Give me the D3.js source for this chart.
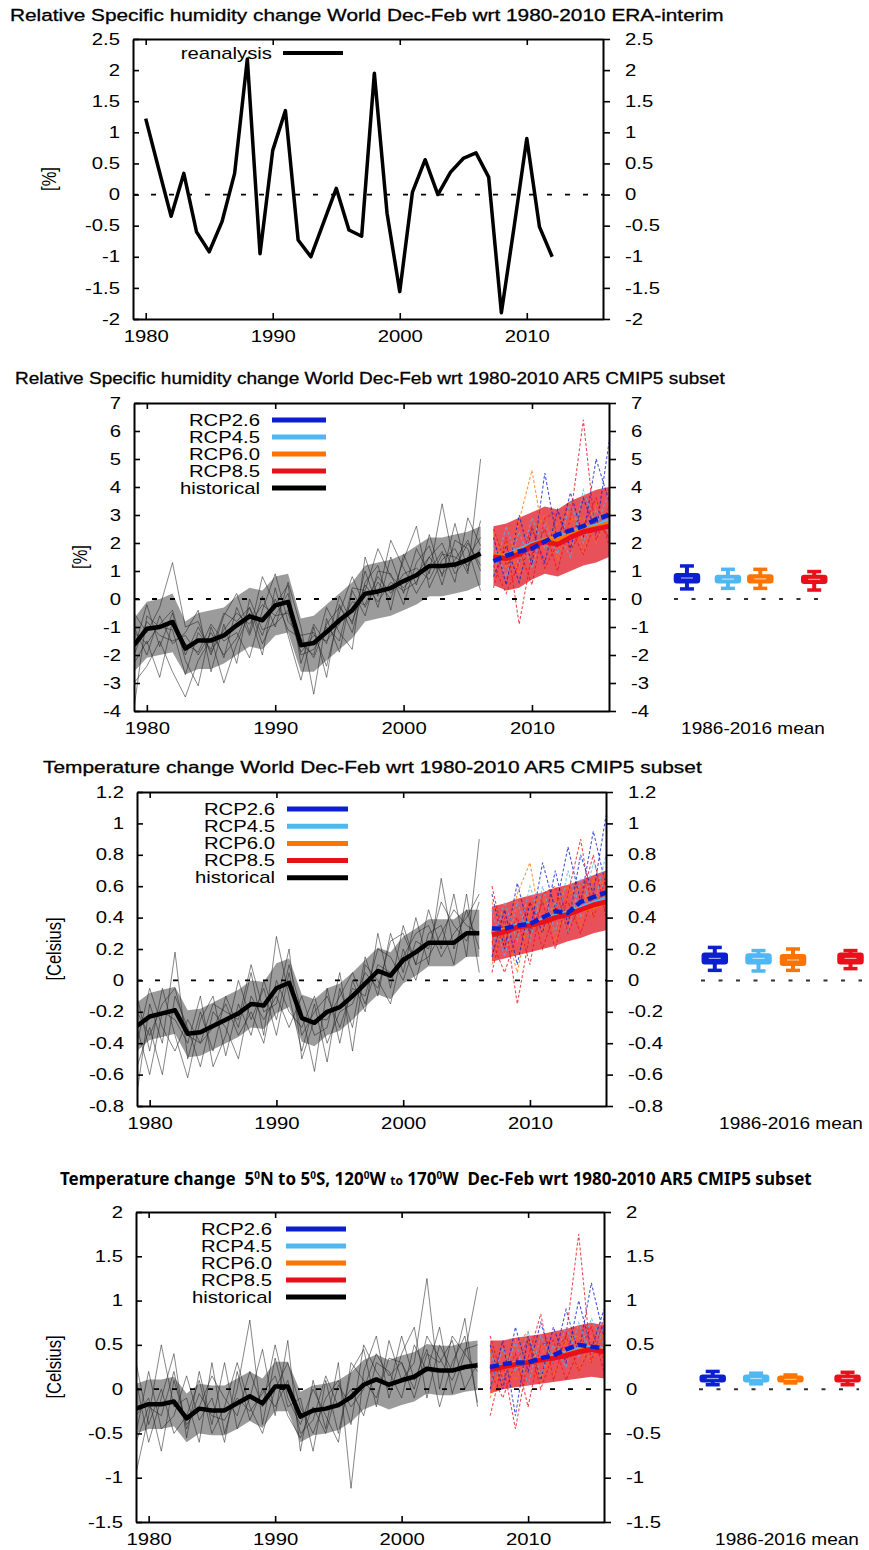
<!DOCTYPE html>
<html>
<head>
<meta charset="utf-8">
<script src="https://cdn.jsdelivr.net/npm/d3@7"></script>
<style>
  body { margin: 0; background: #fff; }
  svg { display: block; font-family: "Liberation Sans", Arial, sans-serif; }
  .axis path, .axis line { stroke: #000; }
  .axis path { stroke-width: 2; }
  .axis line { stroke-width: 1.6; }
  .axis text { fill: #000; font-size: 16px; font-family: "Liberation Sans", Arial, sans-serif; }
</style>
</head>
<body>
<svg id="chart" width="869" height="1550"></svg>
<script>
// ---- data ----
const reanYears = [1980,1981,1982,1983,1984,1985,1986,1987,1988,1989,1990,1991,1992,1993,1994,1995,1996,1997,1998,1999,2000,2001,2002,2003,2004,2005,2006,2007,2008,2009,2010,2011,2012];
const reanalysis = [1.22,0.43,-0.35,0.34,-0.6,-0.92,-0.44,0.34,2.18,-0.95,0.71,1.35,-0.73,-1.0,-0.45,0.1,-0.57,-0.67,1.95,-0.3,-1.56,0.04,0.56,0.0,0.36,0.58,0.67,0.28,-1.9,-0.52,0.9,-0.52,-1.0];

const histYears = [1979,1980,1981,1982,1983,1984,1985,1986,1987,1988,1989,1990,1991,1992,1993,1994,1995,1996,1997,1998,1999,2000,2001,2002,2003,2004,2005,2006];
const scenYears = [2007,2008,2009,2010,2011,2012,2013,2014,2015,2016];
const scenarios = ["RCP2.6","RCP4.5","RCP6.0","RCP8.5"];
const forcing = [2.6,4.5,6.0,8.5];
const scenColors = ["#0b1fd1","#4fb7f2","#ff7400","#e8101a"];
const xTicks = [1980,1990,2000,2010];

// specific humidity, world [%]
const humHistMean = [-1.65,-1.06,-1.0,-0.82,-1.77,-1.48,-1.48,-1.3,-0.94,-0.62,-0.76,-0.23,-0.1,-1.65,-1.57,-1.18,-0.76,-0.4,0.19,0.27,0.39,0.64,0.85,1.18,1.18,1.23,1.4,1.62];
const humHistLo = [-2.6,-2.1,-2.0,-1.9,-2.7,-2.5,-2.5,-2.3,-2.0,-1.7,-1.8,-1.3,-1.2,-2.6,-2.6,-2.2,-1.8,-1.4,-0.8,-0.7,-0.6,-0.4,-0.2,0.1,0.1,0.2,0.3,0.5];
const humHistHi = [-0.7,-0.1,0.0,0.2,-0.8,-0.5,-0.4,-0.3,0.1,0.4,0.3,0.8,0.9,-0.7,-0.6,-0.2,0.2,0.6,1.2,1.3,1.4,1.6,1.9,2.2,2.2,2.3,2.4,2.6];
const humHistRuns = [
  [-0.5,-1.2,-0.3,1.3,-1.0,-0.8,-2.0,-0.6,0.2,-1.2,0.8,-0.2,0.5,-2.3,-0.9,-1.6,0.1,-0.9,1.0,-0.3,1.5,0.2,1.8,0.9,3.4,1.1,2.0,1.2],
  [-3.0,-2.4,-1.5,-2.6,-3.5,-2.2,-1.4,-3.0,-1.6,-0.5,-2.0,0.4,-1.3,-2.9,-1.0,-2.8,-0.2,-1.2,0.6,1.2,-0.4,1.6,0.5,2.3,0.8,2.7,1.0,2.8],
  [-1.8,-0.2,-1.7,-0.5,-2.2,-3.1,-1.0,-2.1,-0.3,-1.3,0.1,-1.0,0.6,-1.0,-3.4,-0.7,-1.9,0.3,-0.6,1.0,0.9,-0.2,1.3,1.9,0.5,2.1,1.8,0.3],
  [-1.0,-2.0,-0.6,-1.6,-1.2,-0.4,-2.6,-0.9,-2.3,0.0,-1.1,-0.9,-0.4,-1.6,-2.0,-0.3,-1.2,-1.8,1.5,0.1,2.1,1.1,0.2,1.0,1.7,0.6,2.9,1.9],
  [-2.3,-1.5,-2.8,-0.8,-1.6,-1.9,-0.9,-1.5,-1.2,-2.1,-0.4,0.9,-0.8,-1.3,-1.2,-2.4,-0.5,0.8,-0.3,0.6,0.0,1.4,2.6,0.4,1.4,1.8,0.9,5.0],
  [-3.9,-0.6,-1.0,-1.1,-2.7,-1.2,-1.8,-0.5,-0.8,-0.3,-1.6,-0.6,0.2,-2.0,-1.8,-1.0,-1.5,0.4,0.3,1.8,0.8,0.4,0.9,1.5,2.0,0.9,1.5,2.2],
  [-1.2,-1.6,-0.9,-0.4,-2.0,-1.0,-1.9,-1.1,-0.5,-0.9,-0.2,-0.6,-0.5,-1.9,-1.3,-1.5,-0.9,-0.1,-0.2,0.8,0.2,0.9,1.1,0.7,1.6,1.5,1.2,1.8],
  [-2.0,-0.8,-1.3,-1.5,-1.3,-2.0,-1.2,-2.0,-1.4,-0.3,-1.3,0.0,-1.1,-1.4,-2.1,-0.9,-0.3,-0.8,0.5,-0.1,0.6,0.3,0.6,1.5,0.9,1.4,2.1,1.0]
];
const humScenMeans = [
  [1.35,1.55,1.7,1.8,2.05,2.3,2.45,2.6,2.85,3.0],
  [1.5,1.55,1.75,1.95,2.1,2.15,2.35,2.5,2.6,2.8],
  [1.55,1.5,1.7,1.9,2.1,2.1,2.3,2.45,2.55,2.7],
  [1.5,1.45,1.6,1.9,2.05,1.95,2.2,2.4,2.5,2.6]
];
const humScenLo = [0.5,0.3,0.4,0.7,0.9,0.8,1.0,1.2,1.3,1.5];
const humScenHi = [2.6,2.7,2.9,3.1,3.3,3.2,3.5,3.7,3.9,4.0];
const humScenRuns = [
  [[2.2,0.5,3.0,1.2,4.5,2.0,3.8,2.2,5.0,3.5],[0.8,1.9,0.6,2.5,1.3,3.2,1.8,3.6,2.4,5.6]],
  [[1.9,0.8,2.4,1.1,2.7,1.6,3.5,2.0,3.2,2.3],[0.9,2.6,1.2,2.9,1.8,2.4,1.5,3.9,2.6,3.8]],
  [[2.4,1.1,2.8,4.6,1.9,2.7,3.1,1.6,3.4,2.6],[1.0,2.0,0.9,2.2,3.0,1.4,2.8,2.9,2.0,3.1]],
  [[0.4,2.2,-0.9,1.6,2.5,1.0,2.9,6.4,2.1,3.3],[2.5,1.2,1.8,0.5,2.9,3.1,1.7,2.6,3.6,1.9],[1.2,0.2,1.3,2.6,1.1,2.0,2.5,1.6,2.8,2.2]]
];
// box stats per scenario: [min, q1, median, q3, max]
const humBox = [[0.36,0.6,0.75,0.88,1.18],[0.38,0.6,0.71,0.82,1.06],[0.38,0.6,0.72,0.84,1.06],[0.32,0.58,0.7,0.82,0.98]];

// temperature, world [C]
const tWorldHistMean = [-0.29,-0.23,-0.21,-0.19,-0.34,-0.33,-0.29,-0.25,-0.21,-0.15,-0.16,-0.05,-0.015,-0.24,-0.27,-0.2,-0.17,-0.1,-0.02,0.06,0.03,0.13,0.18,0.24,0.24,0.24,0.3,0.3];
const tWorldHistLo = [-0.45,-0.38,-0.36,-0.34,-0.49,-0.48,-0.44,-0.40,-0.36,-0.30,-0.31,-0.21,-0.17,-0.39,-0.42,-0.35,-0.32,-0.25,-0.17,-0.09,-0.12,-0.02,0.03,0.09,0.09,0.09,0.15,0.15];
const tWorldHistHi = [-0.14,-0.08,-0.06,-0.04,-0.19,-0.18,-0.14,-0.10,-0.06,0.0,-0.01,0.11,0.14,-0.09,-0.12,-0.05,-0.02,0.05,0.13,0.21,0.18,0.28,0.33,0.39,0.39,0.39,0.45,0.45];
const tWorldHistRuns = [
  [-0.72,-0.15,-0.4,0.18,-0.5,-0.2,-0.45,-0.1,-0.3,0.05,-0.35,0.28,-0.1,-0.45,-0.15,-0.52,-0.05,-0.3,0.15,-0.1,0.3,0.05,0.4,0.1,0.65,0.2,0.45,0.2],
  [-0.1,-0.45,-0.05,-0.35,-0.62,-0.25,-0.1,-0.48,-0.15,-0.35,0.0,-0.25,0.1,-0.2,-0.58,-0.05,-0.4,0.0,-0.2,0.3,-0.05,0.35,0.1,0.45,0.2,0.55,0.15,0.9],
  [-0.55,-0.3,-0.6,-0.1,-0.3,-0.55,-0.2,-0.3,-0.5,-0.1,-0.25,-0.1,-0.3,-0.1,-0.35,-0.3,0.05,-0.45,0.1,0.0,-0.15,0.2,0.0,0.3,0.35,0.1,0.55,0.05],
  [-0.3,-0.6,-0.2,-0.25,-0.4,-0.1,-0.55,-0.35,0.0,-0.25,-0.05,-0.35,0.05,-0.35,-0.2,-0.1,-0.3,-0.05,-0.1,0.2,0.15,0.0,0.25,0.2,0.5,0.35,0.25,0.5],
  [-0.4,-0.05,-0.3,-0.45,-0.25,-0.4,-0.3,-0.15,-0.35,-0.2,-0.4,0.0,-0.2,-0.3,-0.1,-0.4,-0.2,-0.15,0.05,-0.05,0.25,0.3,0.1,0.15,0.3,0.45,0.35,0.3],
  [-0.2,-0.35,-0.15,-0.05,-0.35,-0.4,-0.15,-0.2,-0.25,0.1,-0.2,-0.15,0.2,-0.5,-0.25,-0.25,-0.1,0.05,-0.15,0.1,0.05,0.15,0.3,0.35,0.15,0.3,0.4,0.55]
];
const tWorldScenMeans = [
  [0.33,0.33,0.35,0.36,0.40,0.44,0.43,0.50,0.53,0.56],
  [0.31,0.32,0.35,0.36,0.38,0.41,0.43,0.46,0.49,0.52],
  [0.30,0.32,0.34,0.35,0.37,0.40,0.42,0.45,0.47,0.50],
  [0.29,0.31,0.34,0.35,0.37,0.40,0.42,0.45,0.48,0.50]
];
const tWorldScenLo = [0.12,0.14,0.16,0.18,0.2,0.22,0.25,0.27,0.3,0.32];
const tWorldScenHi = [0.47,0.49,0.52,0.54,0.56,0.59,0.61,0.64,0.67,0.70];
const tWorldScenRuns = [
  [[0.55,0.2,0.62,0.3,0.75,0.45,0.85,0.5,0.95,0.6],[0.15,0.45,0.1,0.5,0.3,0.7,0.35,0.8,0.55,1.05]],
  [[0.45,0.15,0.5,0.25,0.6,0.3,0.7,0.4,0.75,0.55],[0.2,0.5,0.25,0.6,0.35,0.5,0.3,0.65,0.45,0.8]],
  [[0.5,0.25,0.55,0.75,0.3,0.5,0.6,0.35,0.65,0.45],[0.1,0.35,0.05,0.45,0.55,0.25,0.55,0.6,0.4,0.7]],
  [[0.05,0.4,-0.15,0.3,0.5,0.2,0.55,0.9,0.4,0.65],[0.6,0.25,0.4,0.1,0.55,0.6,0.3,0.5,0.8,0.4],[0.25,0.05,0.3,0.5,0.2,0.45,0.5,0.3,0.55,0.45]]
];
const tWorldBox = [[0.064,0.11,0.14,0.17,0.21],[0.06,0.11,0.14,0.165,0.19],[0.064,0.1,0.13,0.16,0.2],[0.075,0.11,0.14,0.17,0.19]];

// temperature, 5N-5S 120W-170W [C]
const tNinoHistMean = [-0.22,-0.17,-0.17,-0.14,-0.33,-0.22,-0.24,-0.24,-0.16,-0.08,-0.16,0.03,0.03,-0.31,-0.24,-0.22,-0.18,-0.09,0.05,0.11,0.05,0.1,0.14,0.23,0.21,0.21,0.25,0.27];
const tNinoHistLo = [-0.5,-0.45,-0.45,-0.42,-0.6,-0.5,-0.52,-0.52,-0.45,-0.36,-0.44,-0.25,-0.25,-0.6,-0.52,-0.5,-0.46,-0.37,-0.23,-0.17,-0.23,-0.18,-0.14,-0.05,-0.07,-0.07,-0.03,-0.01];
const tNinoHistHi = [0.06,0.11,0.11,0.14,-0.05,0.06,0.04,0.04,0.12,0.2,0.12,0.31,0.31,-0.03,0.04,0.06,0.1,0.19,0.33,0.39,0.33,0.38,0.42,0.51,0.49,0.49,0.53,0.55];
const tNinoHistRuns = [
  [-0.95,-0.3,0.5,-0.2,-0.1,-0.6,0.3,-0.5,0.0,0.78,-0.4,0.35,-0.2,-0.1,-0.7,0.1,-0.5,0.2,0.45,-0.2,0.55,0.1,0.3,1.25,0.0,0.6,0.4,0.2],
  [0.1,-0.6,-0.1,0.4,-0.55,0.2,-0.4,0.3,-0.45,-0.1,0.45,-0.3,0.55,-0.7,0.1,-0.45,0.3,-1.12,0.2,0.6,-0.1,0.4,0.7,-0.1,0.5,0.2,0.8,-0.2],
  [-0.5,0.2,-0.45,-0.3,0.15,-0.35,-0.1,-0.6,0.2,-0.35,0.0,-0.2,0.1,-0.5,-0.35,0.15,-0.2,0.0,-0.3,0.3,0.2,-0.1,0.5,0.2,0.7,-0.05,0.4,1.15],
  [-0.3,-0.1,-0.7,0.1,-0.4,-0.2,0.15,-0.1,-0.3,0.2,-0.2,0.5,-0.1,-0.4,0.0,-0.3,-0.6,0.3,0.1,-0.1,0.35,0.3,-0.1,0.4,0.3,0.55,0.0,0.3],
  [0.3,-0.4,0.0,-0.5,-0.3,0.1,-0.5,-0.2,0.3,-0.2,-0.5,0.0,0.3,-0.2,-0.5,-0.1,0.1,-0.4,0.5,0.2,0.0,0.6,0.1,0.45,-0.2,0.3,0.6,-0.15],
  [-0.6,-0.2,-0.3,0.2,-0.45,-0.05,-0.3,-0.35,-0.1,-0.25,-0.05,0.15,-0.3,-0.55,-0.2,-0.5,0.05,-0.2,0.0,0.4,0.15,0.3,0.0,0.6,0.35,0.1,0.45,0.5]
];
const tNinoScenMeans = [
  [0.25,0.28,0.3,0.3,0.35,0.38,0.45,0.5,0.48,0.46],
  [0.23,0.26,0.29,0.3,0.34,0.37,0.41,0.45,0.47,0.45],
  [0.22,0.25,0.28,0.3,0.33,0.36,0.39,0.43,0.45,0.43],
  [0.22,0.25,0.28,0.3,0.33,0.35,0.38,0.42,0.45,0.42]
];
const tNinoScenLo = [-0.05,0.0,0.02,0.04,0.06,0.08,0.1,0.12,0.14,0.12];
const tNinoScenHi = [0.55,0.55,0.58,0.6,0.62,0.65,0.68,0.72,0.75,0.72];
const tNinoScenRuns = [
  [[0.5,0.0,0.7,0.2,0.75,0.3,0.9,0.4,1.2,0.6],[0.0,0.55,-0.3,0.6,0.1,0.7,0.3,1.0,0.45,0.9]],
  [[0.4,0.1,0.55,0.05,0.6,0.3,0.7,0.35,0.8,0.5],[0.05,0.45,0.2,0.65,0.15,0.5,0.25,0.75,0.4,0.7]],
  [[0.45,0.15,0.5,0.65,0.1,0.45,0.55,0.2,0.6,0.35],[-0.1,0.3,0.1,0.4,0.5,0.15,0.55,0.6,0.3,0.65]],
  [[-0.3,0.3,-0.45,0.35,0.85,0.1,0.6,1.75,0.3,0.8],[0.6,0.1,0.4,-0.2,0.5,0.55,0.1,0.45,0.7,0.2],[0.2,-0.1,0.3,0.55,0.0,0.4,0.6,0.2,0.5,0.35]]
];
const tNinoBox = [[0.05,0.09,0.12,0.15,0.2],[0.06,0.09,0.12,0.15,0.18],[0.07,0.09,0.11,0.14,0.16],[0.05,0.09,0.12,0.15,0.19]];

// ---- drawing ----
const SX = 1.27; // the source figure is stretched sideways, so text is too
const svg = d3.select("#chart");
svg.append("rect").attr("width", 869).attr("height", 1550).attr("fill", "#fff");

function addText(parent, x, y, str, o = {}) {
  const sx = o.sx ?? SX, sy = o.sy ?? 1;
  return parent.append("text")
    .attr("transform", `translate(${x},${y})` + (o.rotate ? ` rotate(${o.rotate})` : "") + ` scale(${sx},${sy})`)
    .attr("text-anchor", o.anchor || "start")
    .attr("dy", "0.35em")
    .attr("font-size", o.size || 16)
    .attr("font-weight", o.weight || null)
    .attr("font-family", o.family || null)
    .text(str);
}

// squeeze/stretch a title so it spans x0..x1
function fitWidth(t, x0, x1, y) {
  const len = t.node().getComputedTextLength();
  t.attr("text-anchor", "start")
    .attr("transform", `translate(${x0},${y}) scale(${(x1 - x0) / len},1)`);
}

const fmt = (v) => String(+v.toFixed(2));

function drawPanel(p) {
  const g = svg.append("g");
  const x = d3.scaleLinear().domain([1979, 2016]).range([p.left, p.right]);
  const y = d3.scaleLinear().domain(p.yDomain).range([p.bottom, p.top]);

  svg.append("clipPath").attr("id", "clip" + p.id).append("rect")
    .attr("x", p.left).attr("y", p.top)
    .attr("width", p.right - p.left).attr("height", p.bottom - p.top);
  const plot = g.append("g").attr("clip-path", `url(#clip${p.id})`);

  const line = (years) => d3.line().x((v, i) => x(years[i])).y((v) => y(v));
  const band = (years, lo, hi) => d3.area()
    .x((v, i) => x(years[i])).y0((v, i) => y(lo[i])).y1((v, i) => y(hi[i]));

  if (p.hist) {
    // historical ensemble
    plot.append("path").datum(p.hist.lo)
      .attr("d", band(histYears, p.hist.lo, p.hist.hi))
      .attr("fill", "#5e5e5e").attr("opacity", 0.62);
    plot.selectAll(".hrun").data(p.hist.runs).join("path")
      .attr("class", "hrun")
      .attr("d", line(histYears))
      .attr("fill", "none").attr("stroke", "#222").attr("stroke-opacity", 0.55).attr("stroke-width", 1);

    // scenario ensemble
    plot.append("path").datum(p.scen.lo)
      .attr("d", band(scenYears, p.scen.lo, p.scen.hi))
      .attr("fill", "#e3202c").attr("opacity", 0.78);
    const runs = [];
    p.scen.runs.forEach((set, si) => set.forEach((r) => runs.push({ si, r })));
    // interleave so no colour is buried
    runs.sort((a, b) => (a.si % 2) - (b.si % 2));
    plot.selectAll(".srun").data(runs).join("path")
      .attr("class", "srun")
      .attr("d", (d) => line(scenYears)(d.r))
      .attr("fill", "none").attr("stroke", (d) => scenColors[d.si])
      .attr("stroke-opacity", 0.75).attr("stroke-width", 1.1).attr("stroke-dasharray", "3,2");
  }

  // zero line
  plot.append("line")
    .attr("x1", p.left).attr("x2", p.right).attr("y1", y(0)).attr("y2", y(0))
    .attr("stroke", "#000").attr("stroke-width", 1.8).attr("stroke-dasharray", "5,13");

  if (p.hist) {
    plot.append("path").datum(p.hist.mean)
      .attr("d", line(histYears))
      .attr("fill", "none").attr("stroke", "#000").attr("stroke-width", 4.5)
      .attr("stroke-linejoin", "round");
    [1, 2, 3, 0].forEach((si) => {
      plot.append("path").datum(p.scen.means[si])
        .attr("d", line(scenYears))
        .attr("fill", "none").attr("stroke", scenColors[si])
        .attr("stroke-width", si === 0 ? 4.5 : 5)
        .attr("stroke-dasharray", si === 0 ? "9,4" : null)
        .attr("stroke-linejoin", "round");
    });
  } else {
    plot.append("path").datum(p.rean)
      .attr("d", line(reanYears))
      .attr("fill", "none").attr("stroke", "#000").attr("stroke-width", 3.5)
      .attr("stroke-linejoin", "round");
  }

  // axes, gnuplot style: ticks on all four sides, right ticks point out
  const yTicks = d3.range(p.yDomain[0], p.yDomain[1] + 1e-9, p.yStep).map((v) => +v.toFixed(2));
  g.append("g").attr("class", "axis").attr("transform", `translate(${p.left},0)`)
    .call(d3.axisLeft(y).tickValues(yTicks).tickFormat(fmt).tickSizeInner(-6).tickSizeOuter(0).tickPadding(13))
    .call((a) => a.selectAll(".tick text").attr("x", -13 / SX).attr("transform", `scale(${SX},1)`));
  g.append("g").attr("class", "axis").attr("transform", `translate(${p.right},0)`)
    .call(d3.axisRight(y).tickValues(yTicks).tickFormat(fmt).tickSizeInner(7).tickSizeOuter(0).tickPadding(15))
    .call((a) => a.selectAll(".tick text").attr("x", 22 / SX).attr("transform", `scale(${SX},1)`));
  g.append("g").attr("class", "axis").attr("transform", `translate(0,${p.bottom})`)
    .call(d3.axisBottom(x).tickValues(xTicks).tickFormat(d3.format("d")).tickSizeInner(-6).tickSizeOuter(0))
    .call((a) => a.selectAll(".tick text").attr("y", 17).attr("dy", "0.35em").attr("transform", `scale(${SX},1)`));
  g.append("g").attr("class", "axis").attr("transform", `translate(0,${p.top})`)
    .call(d3.axisTop(x).tickValues(xTicks).tickFormat("").tickSizeInner(-6).tickSizeOuter(0));

  // title and y label
  if (p.title) {
    const t = addText(g, p.titleX[0], p.titleY, p.title, { size: 16.5, sx: 1 })
      .attr("stroke", "#000").attr("stroke-width", 0.3);
    fitWidth(t, p.titleX[0], p.titleX[1], p.titleY);
  }
  addText(g, p.ylabX, (p.top + p.bottom) / 2, p.ylab, { size: 16.5, anchor: "middle", rotate: -90, sx: 1, sy: SX });

  if (!p.hist) {
    addText(g, 272, 53, "reanalysis", { anchor: "end" });
    g.append("line").attr("x1", 283).attr("x2", 343).attr("y1", 53).attr("y2", 53)
      .attr("stroke", "#000").attr("stroke-width", 4);
    return;
  }

  // legend
  const L = p.legend;
  const keys = scenarios.concat(["historical"]);
  const colors = scenColors.concat(["#000"]);
  keys.forEach((k, i) => {
    const ly = L.y0 + i * L.dy;
    addText(g, L.right, ly, k, { anchor: "end" });
    g.append("line").attr("x1", L.x1).attr("x2", L.x2).attr("y1", ly).attr("y2", ly)
      .attr("stroke", colors[i]).attr("stroke-width", 5);
  });

  // 1986-2016 mean box plots
  const bx = d3.scaleLinear().domain([2, 9]).range(p.boxRange);
  g.append("line")
    .attr("x1", bx(2)).attr("x2", bx(9)).attr("y1", y(0)).attr("y2", y(0))
    .attr("stroke", "#333").attr("stroke-width", 2).attr("stroke-dasharray", "4,13.5");
  const boxes = g.selectAll(".box").data(p.box).join("g").attr("class", "box")
    .attr("transform", (d, i) => `translate(${bx(forcing[i])},0)`);
  boxes.append("line").attr("y1", (d) => y(d[0])).attr("y2", (d) => y(d[4]))
    .attr("stroke", (d, i) => scenColors[i]).attr("stroke-width", 4);
  boxes.selectAll(".cap").data((d, i) => [[d[0], i], [d[4], i]]).join("line").attr("class", "cap")
    .attr("x1", -7).attr("x2", 7).attr("y1", (c) => y(c[0])).attr("y2", (c) => y(c[0]))
    .attr("stroke", (c) => scenColors[c[1]]).attr("stroke-width", 3.5);
  boxes.append("rect")
    .attr("x", -12).attr("width", 24)
    .attr("y", (d) => y(d[3])).attr("height", (d) => y(d[1]) - y(d[3]))
    .attr("rx", 2)
    .attr("fill", (d, i) => scenColors[i]).attr("stroke", (d, i) => scenColors[i]).attr("stroke-width", 2.5);
  boxes.append("line").attr("x1", -6).attr("x2", 6).attr("y1", (d) => y(d[2])).attr("y2", (d) => y(d[2]))
    .attr("stroke", "#fff").attr("stroke-opacity", 0.6).attr("stroke-width", 1.2);

  addText(g, p.meanX, p.bottom + 17, "1986-2016 mean", { size: 17, anchor: "middle", sx: 1.12 });
}

const panels = [
  { id: 1, left: 133, right: 603, top: 39, bottom: 319, yDomain: [-2, 2.5], yStep: 0.5,
    title: "Relative Specific humidity change World Dec-Feb wrt 1980-2010 ERA-interim",
    titleX: [10, 724], titleY: 15, ylab: "[%]", ylabX: 49, rean: reanalysis },
  { id: 2, left: 134, right: 609, top: 403, bottom: 711, yDomain: [-4, 7], yStep: 1,
    title: "Relative Specific humidity change World Dec-Feb wrt 1980-2010 AR5 CMIP5 subset",
    titleX: [15, 725], titleY: 378, ylab: "[%]", ylabX: 80,
    hist: { mean: humHistMean, lo: humHistLo, hi: humHistHi, runs: humHistRuns },
    scen: { means: humScenMeans, lo: humScenLo, hi: humScenHi, runs: humScenRuns },
    box: humBox, boxRange: [674, 825], meanX: 753,
    legend: { right: 260, x1: 272, x2: 326, y0: 420, dy: 17 } },
  { id: 3, left: 137, right: 606, top: 792, bottom: 1106, yDomain: [-0.8, 1.2], yStep: 0.2,
    title: "Temperature change World Dec-Feb wrt 1980-2010 AR5 CMIP5 subset",
    titleX: [43, 702], titleY: 767, ylab: "[Celsius]", ylabX: 54,
    hist: { mean: tWorldHistMean, lo: tWorldHistLo, hi: tWorldHistHi, runs: tWorldHistRuns },
    scen: { means: tWorldScenMeans, lo: tWorldScenLo, hi: tWorldScenHi, runs: tWorldScenRuns },
    box: tWorldBox, boxRange: [701, 862], meanX: 791,
    legend: { right: 275, x1: 287, x2: 348, y0: 809, dy: 17.2 } },
  { id: 4, left: 136, right: 604, top: 1212, bottom: 1522, yDomain: [-1.5, 2], yStep: 0.5,
    title: null, titleX: [60, 812], titleY: 1185, ylab: "[Celsius]", ylabX: 54,
    hist: { mean: tNinoHistMean, lo: tNinoHistLo, hi: tNinoHistHi, runs: tNinoHistRuns },
    scen: { means: tNinoScenMeans, lo: tNinoScenLo, hi: tNinoScenHi, runs: tNinoScenRuns },
    box: tNinoBox, boxRange: [699, 859], meanX: 787,
    legend: { right: 272, x1: 286, x2: 346, y0: 1229, dy: 17 } }
];

panels.forEach(drawPanel);

// the last title has superscript degrees and a different face
{
  const p = panels[3];
  const t = svg.append("text")
    .attr("font-family", "'Noto Sans', 'Open Sans', sans-serif")
    .attr("font-weight", 700).attr("font-size", 17)
    .attr("dy", "0.35em").style("white-space", "pre");
  const parts = [
    ["Temperature change  5", 0], ["0", 1], ["N to 5", 0], ["0", 1], ["S, 120", 0], ["0", 1],
    ["W ", 0], ["to", 2], [" 170", 0], ["0", 1], ["W  Dec-Feb wrt 1980-2010 AR5 CMIP5 subset", 0]
  ];
  let up = false;
  parts.forEach(([s, kind]) => {
    const ts = t.append("tspan").text(s);
    if (kind === 1) { ts.attr("font-size", 10).attr("dy", up ? 0 : -6); up = true; }
    else { ts.attr("font-size", kind === 2 ? 12 : 17).attr("dy", up ? 6 : 0); up = false; }
  });
  fitWidth(t, p.titleX[0], p.titleX[1], p.titleY);
}
</script>
</body>
</html>
